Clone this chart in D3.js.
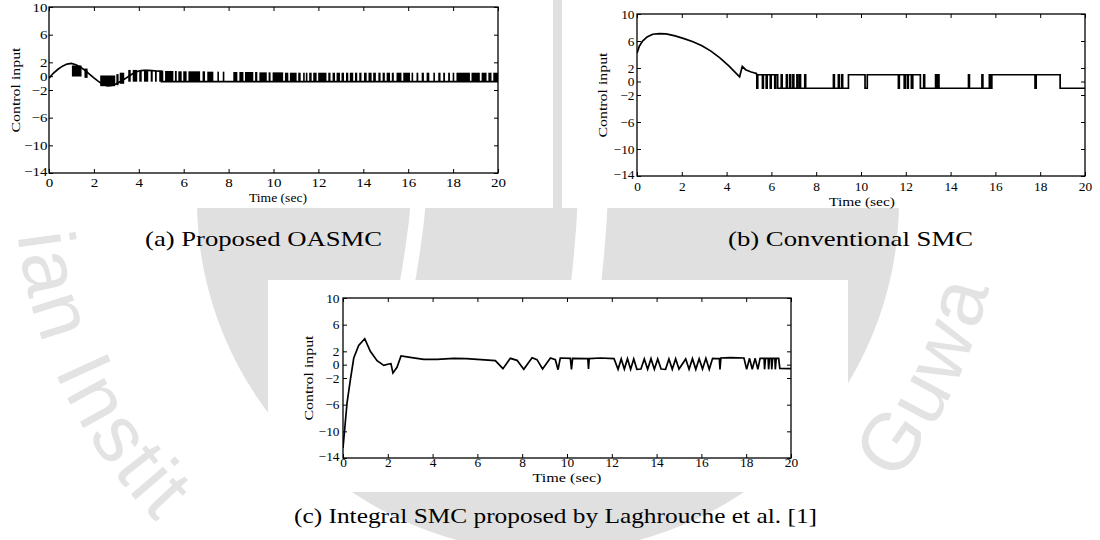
<!DOCTYPE html>
<html><head><meta charset="utf-8">
<script src="https://cdn.jsdelivr.net/npm/d3@7/dist/d3.min.js"></script>
<style>html,body{margin:0;padding:0;background:#fff;} svg{display:block;}</style>
</head><body>
<svg id="chart" width="1100" height="540"></svg>
<script>
// ---------------- data ----------------
const timeTicks = [0, 2, 4, 6, 8, 10, 12, 14, 16, 18, 20];
const inputTicks = [-14, -10, -6, -2, 0, 2, 6, 10];
const xLabel = "Time (sec)";
const yLabel = "Control input";
const captions = ["(a) Proposed OASMC", "(b) Conventional SMC", "(c) Integral SMC proposed by Laghrouche et al. [1]"];

// (a) Proposed OASMC : underlying continuous trace
const aTime  = [0, 0.2, 0.4, 0.6, 0.8, 1.0, 1.2, 1.4, 1.6, 1.8, 2.0, 2.2, 2.4, 2.6, 2.8, 3.0, 3.2, 3.4, 3.6, 3.8, 4.0, 4.2, 4.4, 4.6, 4.8, 5.0, 5.01, 20];
const aInput = [-0.3, 0.45, 1.0, 1.45, 1.75, 1.85, 1.65, 1.3, 0.85, 0.3, -0.25, -0.75, -1.15, -1.4, -1.35, -1.1, -0.75, -0.35, 0.1, 0.5, 0.75, 0.85, 0.85, 0.8, 0.75, 0.7, -0.8, -0.8];
// (a) chattering bursts: [start, end, low, high]
const aBursts = [
  [1.02,1.45,-0.05,1.55],[1.58,1.72,-0.25,1.1],[2.28,2.95,-1.45,0.1],[3.00,3.10,-1.3,0.3],[3.15,3.35,-1.1,0.5],
  [3.53,3.64,-0.8,0.9],[3.73,3.93,-0.8,0.9],[4.02,4.13,-0.8,0.9],[4.23,4.42,-0.8,0.9],[4.53,4.62,-0.8,0.85],
  [4.72,4.80,-0.8,0.8],[4.91,5.09,-0.8,0.8],[5.17,5.54,-0.8,0.75],[5.61,5.69,-0.8,0.75],[5.76,5.91,-0.8,0.7],
  [5.98,6.13,-0.8,0.7],[6.21,6.73,-0.8,0.7],[6.84,6.95,-0.8,0.7],[7.05,7.32,-0.8,0.65],[7.50,7.55,-0.8,0.65],
  [7.74,7.79,-0.8,0.65],[8.21,8.39,-0.8,0.6],[8.48,8.66,-0.8,0.6],[8.73,9.10,-0.8,0.6],[9.18,9.28,-0.8,0.6],
  [9.37,9.70,-0.8,0.55],[9.78,9.87,-0.8,0.55],[9.96,10.43,-0.8,0.55],[10.51,10.66,-0.8,0.5],[10.73,11.03,-0.8,0.5],
  [11.10,11.21,-0.8,0.5],[11.32,11.36,-0.8,0.5],[11.44,11.48,-0.8,0.5],[11.59,11.70,-0.8,0.5],[11.77,11.92,-0.8,0.5],
  [11.99,12.36,-0.8,0.5],[12.44,12.54,-0.8,0.5],[12.63,12.74,-0.8,0.5],[12.81,12.96,-0.8,0.5],[13.03,13.14,-0.8,0.5],
  [13.23,13.33,-0.8,0.5],[13.40,13.55,-0.8,0.5],[13.63,13.73,-0.8,0.5],[13.82,13.92,-0.8,0.5],[14.03,14.15,-0.8,0.5],
  [14.23,14.37,-0.8,0.5],[14.44,14.56,-0.8,0.5],[14.67,14.77,-0.8,0.5],[14.86,14.96,-0.8,0.5],[15.04,15.19,-0.8,0.5],
  [15.27,15.36,-0.8,0.5],[15.48,15.70,-0.8,0.5],[15.78,16.08,-0.8,0.5],[16.15,16.22,-0.8,0.5],[16.37,16.45,-0.8,0.5],
  [16.60,16.70,-0.8,0.5],[16.82,16.94,-0.8,0.5],[17.12,17.19,-0.8,0.5],[17.34,17.44,-0.8,0.5],[17.56,17.64,-0.8,0.5],
  [17.78,17.86,-0.8,0.5],[17.98,18.04,-0.8,0.5],[18.15,18.75,-0.8,0.5],[18.82,19.19,-0.8,0.5],[19.27,19.49,-0.8,0.5],
  [19.57,19.71,-0.8,0.5],[19.79,20.0,-0.8,0.5]
];

// (b) Conventional SMC : transient, then switching between two levels
const bTime  = [0, 0.1, 0.25, 0.45, 0.7, 1.0, 1.3, 1.7, 2.1, 2.5, 2.9, 3.3, 3.7, 4.1, 4.58, 4.7, 4.85, 5.1, 5.33];
const bInput = [4.2, 5.2, 6.0, 6.6, 7.0, 7.1, 7.05, 6.75, 6.35, 5.9, 5.3, 4.5, 3.5, 2.3, 0.7, 2.25, 1.75, 1.4, 1.2];
const bHigh = 1.0, bLow = -1.0;
const bSwitchTimes = [5.35,5.39, 5.60,5.64, 5.77,5.81, 5.95,5.99, 6.15,6.19, 6.28, 6.44,6.48, 6.67,6.71, 6.82,6.86,
  6.96,7.0, 7.14,7.18, 7.26,7.3, 7.49,7.53, 8.77,8.81, 8.99,9.03, 9.14,9.18, 9.44, 10.18,10.28, 11.67,11.71,
  11.93,11.97, 12.07,12.11, 12.25,12.31, 12.65, 12.8,12.84, 13.33,13.37, 13.42,13.48, 14.8,14.84, 15.4,15.44,
  15.73,15.77, 15.84, 17.77,17.82, 18.89];

// (c) Integral SMC (Laghrouche et al.)
const cTime  = [0, 0.18, 0.33, 0.48, 0.7, 0.97, 1.22, 1.52, 1.82, 2.04, 2.14, 2.23, 2.41, 2.59, 3.0, 3.6, 4.2, 4.94, 5.5, 6.8,
  7.14, 7.47, 7.77, 8.07, 8.44, 8.66, 8.91, 9.26, 9.48, 9.6, 9.7, 10.15, 10.2, 10.25, 10.93, 10.96, 10.99, 11.5, 12.1,
  12.28, 12.42, 12.56, 12.7, 12.84, 12.98, 13.12, 13.3, 13.45, 13.6, 13.75, 13.9, 14.05, 14.2, 14.4, 14.55, 14.7, 14.85,
  15.0, 15.3, 15.45, 15.6, 15.75, 15.9, 16.05, 16.2, 16.35, 16.5, 16.65, 16.8, 16.83, 16.87, 17.3, 17.9, 18.02, 18.15,
  18.27, 18.4, 18.52, 18.62, 18.8, 18.82, 18.86, 18.98, 19.0, 19.04, 19.12, 19.14, 19.18, 19.28, 19.3, 19.34, 19.45, 19.5, 20];
const cInput = [-12.5, -5.75, -2.25, 1.0, 2.9, 3.9, 2.0, 0.6, -0.1, 0.1, 0.15, -1.25, -0.4, 1.3, 1.1, 0.8, 0.8, 0.95, 0.9, 0.6,
  -0.6, 0.95, 0.65, -0.7, 1.05, 0.75, -0.65, 1.0, 0.75, -0.75, 1.0, 0.95, -0.7, 0.95, 0.9, -0.65, 0.9, 1.0, 0.9,
  -0.7, 0.85, -0.65, 0.9, -0.7, 0.85, -0.7, -0.65, 0.85, -0.7, 0.9, -0.7, 0.85, -0.65, -0.7, 0.85, -0.7, 0.9,
  -0.65, 0.85, -0.7, 0.9, -0.7, 0.9, -0.65, 0.95, -0.7, 0.95, 0.9, 0.95, -0.7, 1.0, 1.05, 1.0, -0.7, 0.95,
  -0.7, 0.95, -0.7, 0.95, 0.95, -0.7, 0.95, 0.95, -0.7, 0.95, 0.95, -0.7, 0.95, 0.95, -0.7, 0.95, 0.95, -0.55, -0.6];

// background watermark words; each word is laid out on a ring ending/starting at the given angle (deg)
const watermarkWords = ["Indian Institute", "of Technology", "Guwahati"];
const watermarkAnchorDeg = [187, 41, 38.5];
const watermarkAnchorIsEnd = [false, true, false];

// ---------------- drawing ----------------
const svg = d3.select("#chart");
const SERIF = "'Liberation Serif','Times New Roman',serif";
svg.append("rect").attr("width", 1100).attr("height", 540).attr("fill", "#fff");

// watermark shapes (background)
const wm = svg.append("g");
wm.append("circle").attr("cx", 548).attr("cy", 201).attr("r", 351).attr("fill", "#e0e0e0");
wm.append("path").attr("d", "M419,195 Q415,245 404,300").attr("stroke", "#fff").attr("stroke-width", 15).attr("fill", "none");
wm.append("path").attr("d", "M593,195 Q591,245 584,300").attr("stroke", "#fff").attr("stroke-width", 30).attr("fill", "none");
const wmText = svg.append("g");

const panelRects = [];
function drawPanel(cfg) {
  const g = svg.append("g");
  panelRects.push(cfg.bg);
  g.append("rect").attr("x", cfg.bg[0]).attr("y", cfg.bg[1]).attr("width", cfg.bg[2]).attr("height", cfg.bg[3]).attr("fill", "#fff");
  const x = d3.scaleLinear().domain([0, 20]).range([cfg.x0, cfg.x1]);
  const y = d3.scaleLinear().domain([-14, 10]).range([cfg.y1, cfg.y0]);
  const tl = 4;
  const fs = 12.5;

  const clipId = "clip" + cfg.id;
  g.append("clipPath").attr("id", clipId).append("rect")
    .attr("x", cfg.x0).attr("y", cfg.y0).attr("width", cfg.x1 - cfg.x0).attr("height", cfg.y1 - cfg.y0);
  const plot = g.append("g").attr("clip-path", `url(#${clipId})`);
  cfg.draw(plot, x, y);

  const bottom = g.append("g").attr("transform", `translate(0,${cfg.y1})`)
    .call(d3.axisBottom(x).tickValues(timeTicks).tickSize(-tl).tickSizeOuter(0));
  const top = g.append("g").attr("transform", `translate(0,${cfg.y0})`)
    .call(d3.axisTop(x).tickValues(timeTicks).tickSize(-tl).tickSizeOuter(0).tickFormat(""));
  const left = g.append("g").attr("transform", `translate(${cfg.x0},0)`)
    .call(d3.axisLeft(y).tickValues(inputTicks).tickSize(-tl).tickSizeOuter(0));
  const right = g.append("g").attr("transform", `translate(${cfg.x1},0)`)
    .call(d3.axisRight(y).tickValues(inputTicks).tickSize(-tl).tickSizeOuter(0).tickFormat(""));
  [bottom, top, left, right].forEach(a => {
    a.select(".domain").remove();
    a.selectAll("line").attr("stroke", "#000").attr("stroke-width", 1);
  });
  bottom.selectAll("text").attr("font-family", SERIF).attr("font-size", fs).attr("fill", "#000")
    .attr("y", cfg.tickBase).attr("dy", 0).attr("transform", `scale(${cfg.sx},1)`);
  left.selectAll("text").attr("font-family", SERIF).attr("font-size", fs).attr("fill", "#000")
    .attr("x", -cfg.lpad / cfg.sx).attr("dy", d => d === -14 ? "0.22em" : "0.32em").attr("transform", `scale(${cfg.sx},1)`);

  g.append("rect").attr("x", cfg.x0).attr("y", cfg.y0).attr("width", cfg.x1 - cfg.x0).attr("height", cfg.y1 - cfg.y0)
    .attr("fill", "none").attr("stroke", "#000").attr("stroke-width", 1.3);

  g.append("text").attr("x", cfg.xlab[0]).attr("y", cfg.xlab[1]).attr("text-anchor", "middle")
    .attr("font-family", SERIF).attr("font-size", 13).attr("textLength", cfg.xlab[2])
    .attr("lengthAdjust", "spacingAndGlyphs").text(xLabel);
  g.append("text").attr("transform", `translate(${cfg.ylab[0]},${cfg.ylab[1]}) rotate(-90)`)
    .attr("text-anchor", "middle").attr("font-family", SERIF).attr("font-size", 13.5)
    .attr("textLength", cfg.ylab[2]).attr("lengthAdjust", "spacingAndGlyphs").text(yLabel);
  g.append("text").attr("class", "caption").attr("x", cfg.cap[0]).attr("y", cfg.cap[1]).attr("font-family", SERIF).attr("font-size", 21)
    .attr("textLength", cfg.cap[2]).attr("lengthAdjust", "spacingAndGlyphs").text(cfg.caption);
}

const line = (x, y) => d3.line().x(d => x(d[0])).y(d => y(d[1]));

// (a)
drawPanel({
  id: "a", bg: [0, 0, 553, 208], x0: 49, x1: 498, y0: 7, y1: 173, sx: 1.2, lpad: 1.5, tickBase: 14.5,
  xlab: [278, 202, 58], ylab: [20, 90, 85], cap: [145, 246, 237], caption: captions[0],
  draw: (p, x, y) => {
    p.append("path").datum(aTime.map((t, i) => [t, aInput[i]])).attr("d", line(x, y))
      .attr("fill", "none").attr("stroke", "#000").attr("stroke-width", 1.7);
    p.selectAll("rect.burst").data(aBursts).join("rect").attr("class", "burst")
      .attr("x", d => x(d[0])).attr("width", d => Math.max(1.6, x(d[1]) - x(d[0])))
      .attr("y", d => y(d[3])).attr("height", d => y(d[2]) - y(d[3])).attr("fill", "#000");
  }
});

// (b)
drawPanel({
  id: "b", bg: [562, 0, 538, 208], x0: 637, x1: 1085, y0: 14, y1: 176, sx: 1.07, lpad: 2.5, tickBase: 15.5,
  xlab: [862, 206, 66], ylab: [607, 95, 85], cap: [728, 246, 245], caption: captions[1],
  draw: (p, x, y) => {
    const pts = bTime.map((t, i) => [t, bInput[i]]);
    let v = bHigh;
    pts.push([bSwitchTimes[0] - 0.01, v]);
    bSwitchTimes.forEach(t => { pts.push([t, v]); v = (v === bHigh) ? bLow : bHigh; pts.push([t, v]); });
    pts.push([20, v]);
    p.append("path").datum(pts).attr("d", line(x, y))
      .attr("fill", "none").attr("stroke", "#000").attr("stroke-width", 1.7);
  }
});

// (c)
drawPanel({
  id: "c", bg: [268, 280, 580, 212], x0: 343, x1: 791, y0: 298, y1: 458, sx: 1.07, lpad: 3.5, tickBase: 9,
  xlab: [567, 482, 69], ylab: [313, 378, 85], cap: [294, 523, 523], caption: captions[2],
  draw: (p, x, y) => {
    p.append("path").datum(cTime.map((t, i) => [t, cInput[i]])).attr("d", line(x, y))
      .attr("fill", "none").attr("stroke", "#000").attr("stroke-width", 1.7);
  }
});

// watermark lettering, one glyph at a time around a ring, only where it is visible
{
  const cx = 508, cy = 175, R = 494, fsW = 80, rad = Math.PI / 180, gap = 3;
  const chartBoxes = [];
  svg.selectAll("text").each(function () { chartBoxes.push(this.getBoundingClientRect()); });
  const hit = (a, b) => !(a.right < b.left || b.right < a.left || a.bottom < b.top || b.bottom < a.top);
  const inRect = (px, py, r) => px > r[0] && px < r[0] + r[2] && py > r[1] && py < r[1] + r[3];
  const tmp = svg.append("text").attr("font-family", "'Liberation Sans',Arial,sans-serif").attr("font-size", fsW);
  const widthOf = ch => { tmp.text(ch === " " ? "\u00a0" : ch); return tmp.node().getComputedTextLength(); };
  watermarkWords.forEach((word, wi) => {
    const widths = Array.from(word, widthOf);
    const total = d3.sum(widths) + gap * (widths.length - 1);
    const startRad = watermarkAnchorDeg[wi] * rad + (watermarkAnchorIsEnd[wi] ? total / R : 0);
    let s = 0;
    Array.from(word).forEach((ch, k) => {
      const w = widths[k];
      const th = startRad - (s + w / 2) / R;
      s += w + gap;
      if (ch === " ") return;
      const rc = R - 0.35 * fsW;
      const gx = cx + rc * Math.cos(th), gy = cy + rc * Math.sin(th);
      if (gx < 0 || gx > 1100 || gy < 0 || gy > 540) return;
      if (panelRects.some(r => inRect(gx, gy, r))) return;
      const px = cx + R * Math.cos(th), py = cy + R * Math.sin(th);
      const rot = Math.atan2(-Math.cos(th), Math.sin(th)) / rad;
      const t = wmText.append("text").attr("transform", `translate(${px},${py}) rotate(${rot})`)
        .attr("text-anchor", "middle").attr("font-family", "'Liberation Sans',Arial,sans-serif")
        .attr("font-size", fsW).attr("fill", "#e3e3e3").text(ch);
      const bb = t.node().getBoundingClientRect();
      if (bb.left < 0 || bb.right > 1100 || bb.top < 0 || bb.bottom > 540 || chartBoxes.some(c => hit(c, bb))) t.remove();
    });
  });
  tmp.remove();
}
</script>
</body></html>
